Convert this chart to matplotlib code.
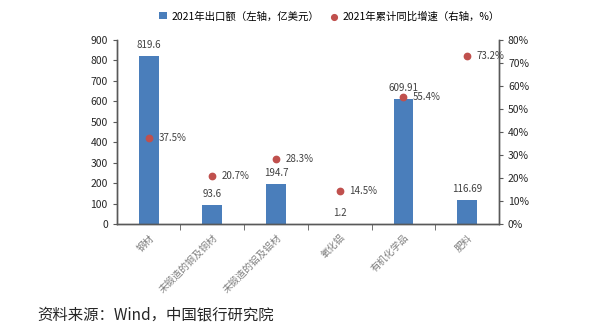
import matplotlib.pyplot as plt
import matplotlib
from matplotlib.ticker import FuncFormatter, FixedLocator

matplotlib.rcParams["font.family"] = ["Noto Sans CJK SC", "DejaVu Sans"]
matplotlib.rcParams["font.size"] = 7.5

BLUE = "#4a7ebb"
RED = "#c0504d"
GRAY = "#595959"

categories = ["钢材", "未锻造的铜及铜材", "未锻造的铝及铝材", "氧化铝", "有机化学品", "肥料"]
export_value = [819.6, 93.6, 194.7, 1.2, 609.91, 116.69]
value_labels = ["819.6", "93.6", "194.7", "1.2", "609.91", "116.69"]
yoy_growth = [37.5, 20.7, 28.3, 14.5, 55.4, 73.2]

fig = plt.figure(figsize=(5.99, 3.35), dpi=100)
ax = fig.add_axes([0.195, 0.331, 0.638, 0.55])
ax2 = ax.twinx()

x = list(range(len(categories)))
bars = ax.bar(x, export_value, width=0.31, color=BLUE, label="2021年出口额（左轴，亿美元）", zorder=2)
dots = ax2.scatter(x, yoy_growth, s=21, color=RED, label="2021年累计同比增速（右轴，%）", zorder=3)

for xi, v, lab in zip(x, export_value, value_labels):
    ax.annotate(lab, (xi, v), xytext=(0, 8), textcoords="offset points",
                ha="center", va="center", fontsize=7, color="#404040")
for xi, g in zip(x, yoy_growth):
    ax2.annotate(f"{g}%", (xi, g), xytext=(7, 0), textcoords="offset points",
                 ha="left", va="center", fontsize=7, color="#404040")

ax.set_xlim(-0.5, len(categories) - 0.5)
ax.set_ylim(0, 900)
ax.set_yticks(range(0, 901, 100))
ax2.set_ylim(0, 80)
ax2.set_yticks(range(0, 81, 10))
ax2.yaxis.set_major_formatter(FuncFormatter(lambda v, p: f"{v:.0f}%"))

ax.set_xticks(x)
ax.set_xticklabels(categories, rotation=45, ha="right", rotation_mode="anchor",
                   color="#7f7f7f", fontsize=7)
ax.xaxis.set_minor_locator(FixedLocator([i + 0.5 for i in range(len(categories) - 1)]))
ax.tick_params(axis="x", which="major", length=0, pad=6)
ax.tick_params(axis="x", which="minor", length=4, direction="out", color=GRAY)
ax.tick_params(axis="y", length=3, color=GRAY, labelcolor="#262626")
ax2.tick_params(axis="y", length=3, color=GRAY, labelcolor="#262626")

for a in (ax, ax2):
    a.spines["top"].set_visible(False)
    for s in ("left", "right", "bottom"):
        a.spines[s].set_color(GRAY)
        a.spines[s].set_linewidth(1.0)

fig.legend(handles=[bars, dots], loc="upper left", bbox_to_anchor=(0.25, 0.995), ncol=2,
           frameon=False, fontsize=7.5, handlelength=0.8, handletextpad=0.4, columnspacing=1.0,
           markerscale=0.9)

fig.text(0.063, 0.06, "资料来源：Wind，中国银行研究院", fontsize=11.1, color="#262626", va="center")

fig.savefig("out.png", dpi=100)
